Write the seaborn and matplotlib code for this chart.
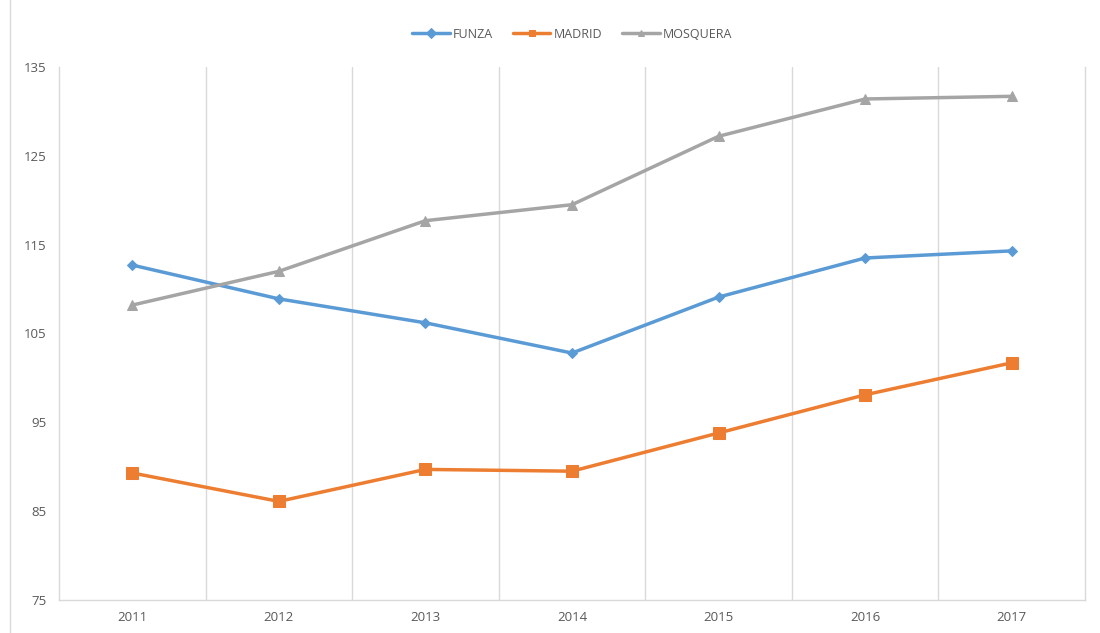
import pandas as pd
import seaborn as sns
import matplotlib.pyplot as plt
from matplotlib.lines import Line2D

# valores
anios = ['2011', '2012', '2013', '2014', '2015', '2016', '2017']
funza = [112.7, 108.9, 106.2, 102.8, 109.1, 113.5, 114.3]
madrid = [89.3, 86.1, 89.7, 89.5, 93.8, 98.1, 101.7]
mosquera = [108.2, 112.0, 117.7, 119.5, 127.2, 131.4, 131.7]

series = ['FUNZA', 'MADRID', 'MOSQUERA']
colores = ['#5B9BD5', '#ED7D31', '#A5A5A5']
marcadores = ['D', 's', '^']
tamanos = [5, 8, 7]

df = pd.DataFrame({'anio': anios, 'FUNZA': funza, 'MADRID': madrid, 'MOSQUERA': mosquera})
df['pos'] = range(len(anios))
largo = df.melt(id_vars=['anio', 'pos'], value_vars=series, var_name='serie', value_name='valor')

sns.set_style('white')
plt.rcParams['font.family'] = ['Open Sans', 'DejaVu Sans']

fig = plt.figure(figsize=(11, 6.33), dpi=100)
ax = fig.add_axes([59 / 1100, 1 - 600 / 633, (1085 - 59) / 1100, (600 - 67) / 633])

for nombre, color, marca, tam in zip(series, colores, marcadores, tamanos):
    sns.lineplot(data=largo[largo['serie'] == nombre], x='pos', y='valor', color=color,
                 marker=marca, markersize=tam, markeredgecolor=color, linewidth=2.5,
                 label=nombre, ax=ax, zorder=3)

ax.set_xlim(-0.5, len(anios) - 0.5)
ax.set_ylim(75, 135)
ax.set_yticks(range(75, 136, 10))
ax.set_xticks(range(len(anios)))
ax.set_xticklabels(anios)
ax.set_xlabel('')
ax.set_ylabel('')

# lineas verticales entre categorias
for b in range(len(anios) - 1):
    ax.axvline(b + 0.5, color='#D9D9D9', linewidth=1, zorder=1)

ax.spines['top'].set_visible(False)
for lado in ['left', 'right', 'bottom']:
    ax.spines[lado].set_color('#D9D9D9')
    ax.spines[lado].set_linewidth(1)

ax.tick_params(axis='both', length=0, labelsize=9.5, colors='#595959')
ax.tick_params(axis='x', pad=8)
ax.tick_params(axis='y', pad=9)

leg = ax.legend(loc='upper center', bbox_to_anchor=(0.5, 1.095), ncol=3, frameon=False,
                fontsize=9, handlelength=3, columnspacing=1.6, handletextpad=0.25)
for t in leg.get_texts():
    t.set_color('#595959')
for h in leg.legend_handles:
    h.set_markersize(5)

# borde izquierdo del area del grafico
fig.add_artist(Line2D([10 / 1100, 10 / 1100], [0, 1], color='#D9D9D9', linewidth=1))

plt.savefig('out.png', dpi=100)
